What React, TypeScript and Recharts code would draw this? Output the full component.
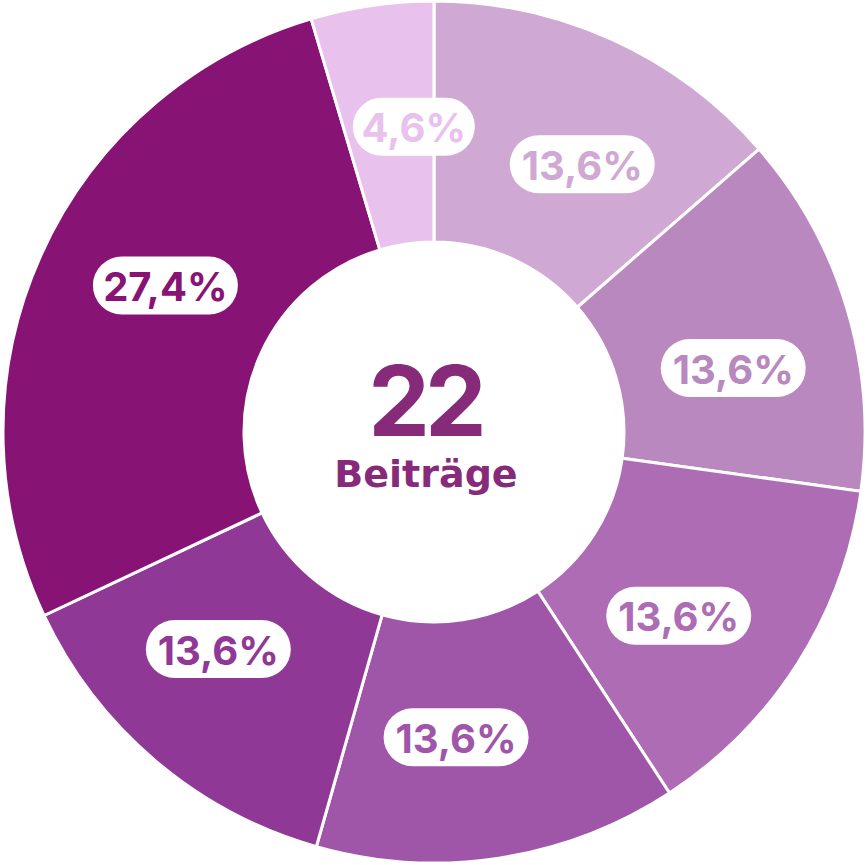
import React from "react";
import { PieChart, Pie, Cell } from "recharts";

const categories = ["A", "B", "C", "D", "E", "F", "G"];
const shares = [13.6, 13.6, 13.6, 13.6, 13.6, 27.4, 4.6];
const colors = ["#cfa9d3", "#b988bf", "#ad6cb4", "#a056a8", "#903896", "#871475", "#e8c2ed"];
const total = 22;
const totalLabel = "Beiträge";

const data = categories.map((name, i) => ({ name, value: shares[i] }));

const RADIAN = Math.PI / 180;
const FONT = "Inter, 'Noto Sans', sans-serif";

function PillLabel(props: any) {
  const { cx, cy, midAngle, index, value } = props;
  const r = 306;
  // labels sit a little clockwise of the slice middle in the original
  const a = (midAngle - 4.5) * RADIAN;
  const x = cx + r * Math.cos(-a);
  const y = cy + r * Math.sin(-a);
  const text = `${value.toFixed(1).replace(".", ",")}%`;
  const w = text.length * 23 + 30;
  const h = 58;
  return (
    <g>
      <rect x={x - w / 2} y={y - h / 2} width={w} height={h} rx={h / 2} fill="#ffffff" />
      <text
        x={x}
        y={y + 1}
        textAnchor="middle"
        dominantBaseline="central"
        fill={colors[index]}
        fontFamily={FONT}
        fontWeight={700}
        fontSize={40}
      >
        {text}
      </text>
    </g>
  );
}

export default function App() {
  return (
    <div style={{ position: "absolute", left: 0, top: 0, width: 868, height: 865, background: "#fff" }}>
      <PieChart width={868} height={865} margin={{ top: 0, right: 0, bottom: 0, left: 0 }}>
        <Pie
          data={data}
          dataKey="value"
          cx={434}
          cy={432}
          innerRadius={190}
          outerRadius={431}
          startAngle={90}
          endAngle={-270}
          stroke="#ffffff"
          strokeWidth={3}
          label={PillLabel}
          labelLine={false}
          isAnimationActive={false}
        >
          {data.map((d, i) => (
            <Cell key={d.name} fill={colors[i]} />
          ))}
        </Pie>
        <text x={425} y={400} textAnchor="middle" dominantBaseline="central" fill="#862a79" fontFamily={FONT} fontWeight={700} fontSize={98} letterSpacing={-5}>
          {total}
        </text>
        <text x={426} y={474} textAnchor="middle" dominantBaseline="central" fill="#862a79" fontFamily="'DejaVu Sans', sans-serif" fontWeight={700} fontSize={38}>
          {totalLabel}
        </text>
      </PieChart>
    </div>
  );
}
